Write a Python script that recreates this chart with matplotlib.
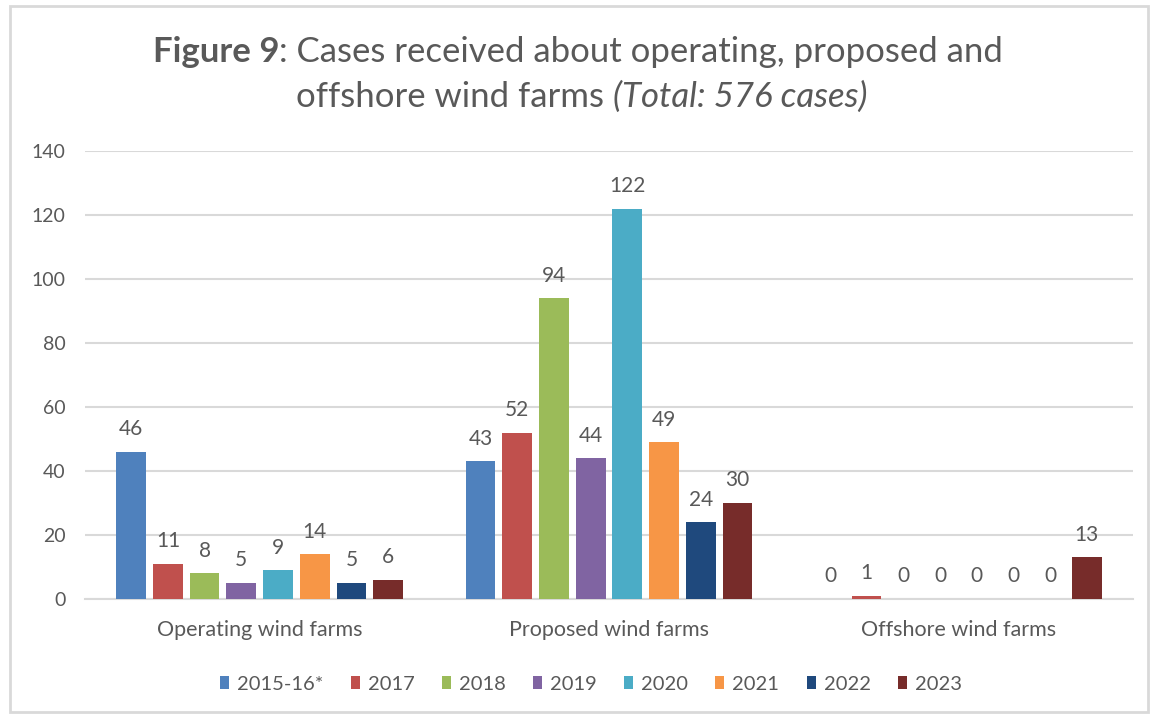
import matplotlib
matplotlib.use("Agg")
import matplotlib.pyplot as plt
import numpy as np
from matplotlib.patches import Rectangle

categories = ["Operating wind farms", "Proposed wind farms", "Offshore wind farms"]
series_names = ["2015-16*", "2017", "2018", "2019", "2020", "2021", "2022", "2023"]
v_2015_16 = [46, 43, 0]
v_2017 = [11, 52, 1]
v_2018 = [8, 94, 0]
v_2019 = [5, 44, 0]
v_2020 = [9, 122, 0]
v_2021 = [14, 49, 0]
v_2022 = [5, 24, 0]
v_2023 = [6, 30, 13]
values = [v_2015_16, v_2017, v_2018, v_2019, v_2020, v_2021, v_2022, v_2023]
colors = ["#4F81BD", "#C0504D", "#9BBB59", "#8064A2", "#4BACC6", "#F79646", "#1F497D", "#772C2A"]
yticks = [0, 20, 40, 60, 80, 100, 120, 140]

FONT = "Lato"
TXT = "#595959"
plt.rcParams['font.family'] = [FONT, 'DejaVu Sans']

W, H = 1156, 718
fig = plt.figure(figsize=(W / 100, H / 100), dpi=100)
ax = fig.add_axes([85 / W, 1 - 599 / H, (1133 - 85) / W, (599 - 151) / H])

x = np.arange(len(categories))
step = 0.105
bw = 0.085
n = len(series_names)
for i, (name, vals, c) in enumerate(zip(series_names, values, colors)):
    pos = x + (i - (n - 1) / 2) * step
    ax.bar(pos, vals, width=bw, color=c, label=name, zorder=3)
    for xp, v in zip(pos, vals):
        ax.annotate(str(v), (xp, v), xytext=(0, 9), textcoords="offset points",
                    ha="center", va="bottom", fontsize=15, color=TXT)

ax.set_xlim(-0.5, 2.5)
ax.set_ylim(0, 140)
ax.set_yticks(yticks)
ax.set_xticks(x)
ax.set_xticklabels(categories)
ax.tick_params(axis="both", length=0, labelcolor=TXT)
ax.tick_params(axis="y", pad=14, labelsize=14)
ax.tick_params(axis="x", pad=15, labelsize=15.5)
ax.grid(axis="y", color="#D9D9D9", linewidth=1.5, zorder=0)
for s in ["left", "right", "top"]:
    ax.spines[s].set_visible(False)
ax.spines["bottom"].set_color("#D9D9D9")
ax.spines["bottom"].set_linewidth(1.5)

leg = fig.legend(loc="center", bbox_to_anchor=(591 / W, 1 - 684 / H), ncol=8, frameon=False,
                 fontsize=14.5, handlelength=0.45, handleheight=0.6, handletextpad=0.4,
                 columnspacing=1.35, labelcolor=TXT)

# Chart border
fig.patches.append(Rectangle((10 / W, 6 / H), (1148 - 10) / W, (712 - 6) / H,
                             transform=fig.transFigure, fill=False,
                             edgecolor="#D9D9D9", linewidth=2))

# Title with mixed styles, each line centred
fig.canvas.draw()
renderer = fig.canvas.get_renderer()

def draw_line(pieces, cx_px, y_px, size=25):
    texts = []
    for txt, kw in pieces:
        t = fig.text(0, 1 - y_px / H, txt, fontsize=size, color=TXT,
                     ha="left", va="baseline", **kw)
        texts.append(t)
    widths = [t.get_window_extent(renderer).width for t in texts]
    cur = cx_px - sum(widths) / 2
    for t, w in zip(texts, widths):
        t.set_x(cur / W)
        cur += w

draw_line([("Figure 9", dict(fontweight="bold")),
           (": Cases received about operating, proposed and", {})], 578, 62)
draw_line([("offshore wind farms ", {}),
           ("(Total: 576 cases)", dict(fontstyle="italic"))], 582, 107)

fig.savefig("out.png", dpi=100)
